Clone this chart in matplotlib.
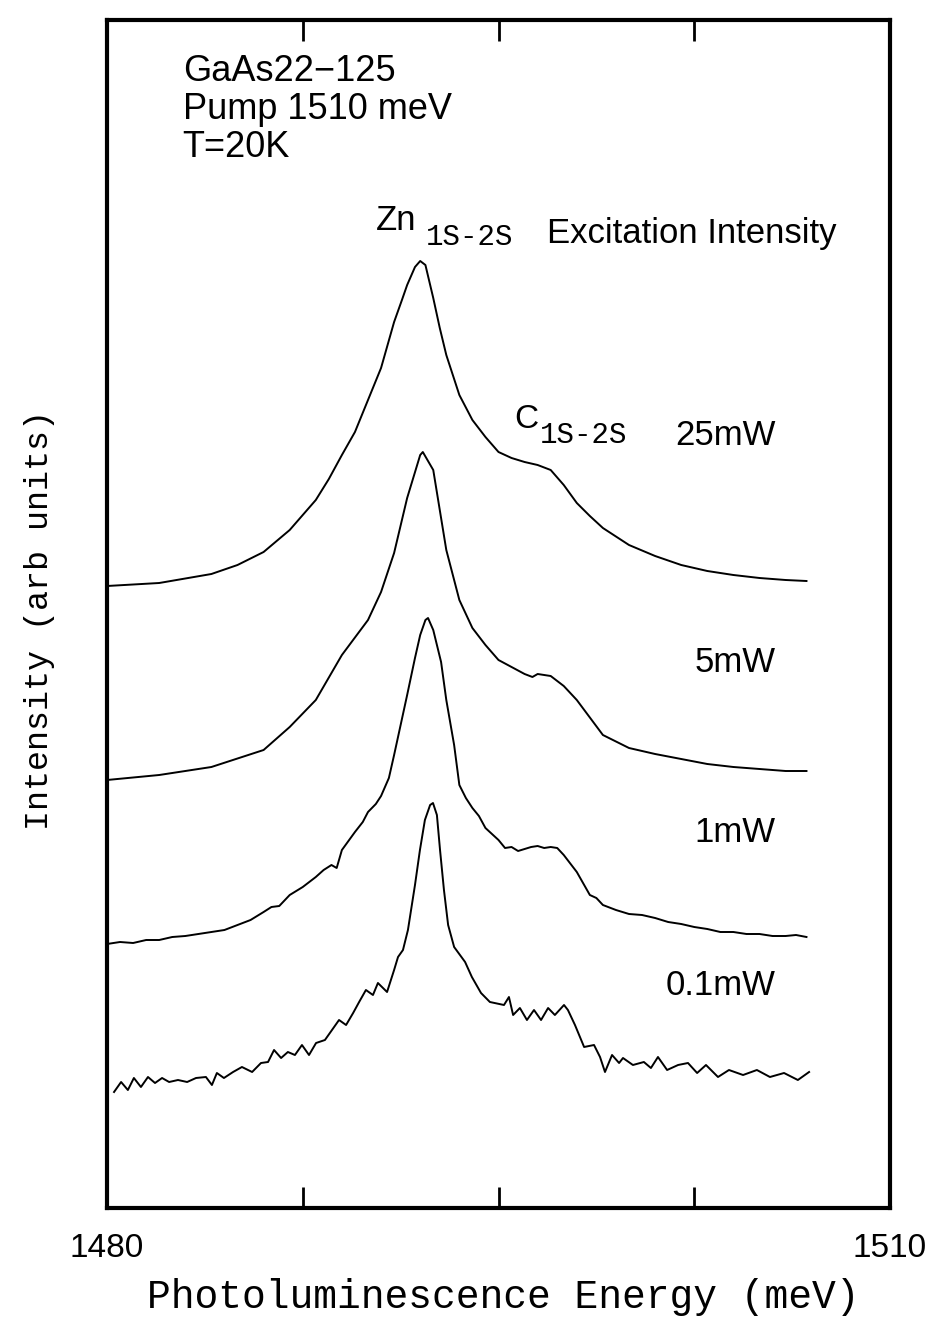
import matplotlib
matplotlib.use("Agg")
import matplotlib.pyplot as plt

# --- spectra, energy in meV, intensity in arbitrary (offset) units ---
e_25mw = [1480.0, 1482.0, 1484.0, 1485.0, 1486.0, 1487.0, 1488.0, 1488.5, 1489.0, 1489.5,
          1490.0, 1490.5, 1491.0, 1491.3, 1491.5, 1491.8, 1492.0, 1492.2, 1492.5, 1492.75,
          1493.0, 1493.5, 1494.0, 1494.5, 1495.0, 1495.5, 1496.0, 1496.5, 1497.0, 1497.5,
          1498.0, 1498.5, 1499.0, 1500.0, 1501.0, 1502.0, 1503.0, 1504.0, 1505.0, 1506.0, 1506.8]
i_25mw = [6.22, 6.25, 6.34, 6.43, 6.56, 6.78, 7.08, 7.29, 7.53, 7.76,
          8.08, 8.40, 8.86, 9.08, 9.23, 9.41, 9.47, 9.43, 9.10, 8.80,
          8.53, 8.13, 7.88, 7.71, 7.56, 7.50, 7.46, 7.43, 7.38, 7.23,
          7.05, 6.92, 6.80, 6.63, 6.52, 6.43, 6.37, 6.33, 6.30, 6.28, 6.27]

e_5mw = [1480.0, 1482.0, 1484.0, 1486.0, 1487.0, 1488.0, 1489.0, 1490.0, 1490.5,
         1491.0, 1491.5, 1492.0, 1492.1, 1492.5, 1493.0, 1493.5, 1494.0, 1494.5,
         1495.0, 1495.5, 1496.0, 1496.3, 1496.5, 1497.0, 1497.5, 1498.0, 1499.0,
         1500.0, 1501.0, 1502.0, 1503.0, 1504.0, 1505.0, 1506.0, 1506.8]
i_5mw = [4.28, 4.33, 4.41, 4.58, 4.81, 5.08, 5.53, 5.88, 6.16,
         6.55, 7.10, 7.53, 7.56, 7.38, 6.58, 6.08, 5.80, 5.63,
         5.48, 5.41, 5.34, 5.31, 5.34, 5.32, 5.22, 5.08, 4.73,
         4.60, 4.54, 4.49, 4.44, 4.41, 4.39, 4.37, 4.37]

e_1mw = [1480.0, 1480.5, 1481.0, 1481.5, 1482.0, 1482.5, 1483.0, 1483.5, 1484.0,
         1484.5, 1485.0, 1485.5, 1486.0, 1486.3, 1486.6, 1487.0, 1487.5, 1488.0,
         1488.3, 1488.6, 1488.8, 1489.0, 1489.5, 1489.8, 1490.0, 1490.3, 1490.5,
         1490.8, 1491.0, 1491.5, 1491.8, 1492.0, 1492.2, 1492.3, 1492.5, 1492.8,
         1493.0, 1493.3, 1493.5, 1493.75, 1494.0, 1494.25, 1494.5, 1494.75, 1495.0,
         1495.25, 1495.5, 1495.75, 1496.0, 1496.25, 1496.5, 1496.75, 1497.0, 1497.25,
         1497.5, 1498.0, 1498.5, 1498.75, 1499.0, 1499.5, 1500.0, 1500.5, 1501.0,
         1501.5, 1502.0, 1502.5, 1503.0, 1503.5, 1504.0, 1504.5, 1505.0, 1505.5,
         1506.0, 1506.4, 1506.8]
i_1mw = [2.64, 2.66, 2.65, 2.68, 2.68, 2.71, 2.72, 2.74, 2.76,
         2.78, 2.83, 2.88, 2.96, 3.01, 3.02, 3.13, 3.21, 3.31,
         3.38, 3.43, 3.40, 3.58, 3.76, 3.86, 3.96, 4.04, 4.12,
         4.30, 4.53, 5.13, 5.50, 5.73, 5.88, 5.90, 5.78, 5.46,
         5.08, 4.63, 4.23, 4.10, 4.00, 3.92, 3.80, 3.74, 3.68,
         3.60, 3.61, 3.57, 3.59, 3.61, 3.62, 3.60, 3.61, 3.60,
         3.53, 3.36, 3.13, 3.10, 3.03, 2.98, 2.94, 2.93, 2.90,
         2.86, 2.84, 2.81, 2.79, 2.76, 2.76, 2.74, 2.74, 2.72,
         2.72, 2.73, 2.71]

e_01mw = [1480.27, 1480.54, 1480.80, 1481.03, 1481.30, 1481.57, 1481.84, 1482.11, 1482.38,
          1482.72, 1483.07, 1483.41, 1483.79, 1484.02, 1484.21, 1484.48, 1484.83, 1485.17,
          1485.56, 1485.90, 1486.17, 1486.40, 1486.67, 1486.93, 1487.20, 1487.47, 1487.74,
          1488.01, 1488.35, 1488.62, 1488.89, 1489.16, 1489.43, 1489.66, 1489.92, 1490.19,
          1490.38, 1490.73, 1491.00, 1491.15, 1491.34, 1491.53, 1491.80, 1491.99, 1492.18,
          1492.38, 1492.49, 1492.64, 1492.76, 1492.91, 1493.07, 1493.30, 1493.72, 1493.98,
          1494.33, 1494.67, 1495.21, 1495.40, 1495.56, 1495.82, 1496.09, 1496.36, 1496.63,
          1496.90, 1497.16, 1497.51, 1497.66, 1497.93, 1498.28, 1498.66, 1498.89, 1499.08,
          1499.35, 1499.62, 1499.77, 1500.15, 1500.57, 1500.84, 1501.11, 1501.46, 1501.88,
          1502.26, 1502.61, 1502.95, 1503.41, 1503.83, 1504.37, 1504.90, 1505.40, 1505.94,
          1506.47, 1506.90]
i_01mw = [1.16, 1.26, 1.18, 1.30, 1.21, 1.31, 1.25, 1.30, 1.26,
          1.28, 1.26, 1.30, 1.31, 1.23, 1.35, 1.30, 1.36, 1.41,
          1.36, 1.45, 1.46, 1.58, 1.50, 1.56, 1.53, 1.63, 1.53,
          1.65, 1.68, 1.78, 1.88, 1.83, 1.95, 2.06, 2.18, 2.13,
          2.25, 2.16, 2.38, 2.51, 2.58, 2.78, 3.23, 3.58, 3.88,
          4.03, 4.05, 3.93, 3.58, 3.18, 2.83, 2.61, 2.46, 2.31,
          2.15, 2.06, 2.03, 2.11, 1.93, 2.00, 1.88, 1.98, 1.88,
          2.00, 1.93, 2.03, 1.98, 1.83, 1.61, 1.63, 1.51, 1.36,
          1.53, 1.45, 1.50, 1.43, 1.46, 1.40, 1.51, 1.38, 1.43,
          1.45, 1.35, 1.43, 1.31, 1.38, 1.33, 1.38, 1.31, 1.35,
          1.28, 1.36]

powers = ["25mW", "5mW", "1mW", "0.1mW"]
label_y = [7.63, 5.36, 3.66, 2.13]   # baseline heights of the power labels

SANS = "Liberation Sans"
MONO = "Liberation Mono"

fig = plt.figure(figsize=(9.35, 13.21), dpi=100)
ax = fig.add_axes([107 / 935, 113 / 1321, 783 / 935, 1188 / 1321])

for e, i in [(e_25mw, i_25mw), (e_5mw, i_5mw), (e_1mw, i_1mw), (e_01mw, i_01mw)]:
    ax.plot(e, i, color="black", lw=1.4, solid_joinstyle="round")

ax.set_xlim(1480, 1510)
ax.set_ylim(0, 11.88)

# only the end values are labelled, three inward ticks on top and bottom
ax.set_xticks([1480, 1510])
ax.set_xticklabels(["1480", "1510"], fontsize=24, family=SANS)
ax.set_xticks([1487.5, 1495, 1502.5], minor=True)
ax.tick_params(axis="x", which="major", length=0, pad=18)
ax.tick_params(axis="x", which="minor", direction="in", length=15, width=2.0,
               top=True, bottom=True)
ax.set_yticks([])
for sp in ax.spines.values():
    sp.set_linewidth(3.0)

# header block
ax.text(1482.9, 11.54, "GaAs22\u2212125\nPump 1510 meV\nT=20K", fontsize=26,
        family=SANS, va="top", ha="left", linespacing=1.12)

# peak assignments
ax.text(1490.3, 9.78, "Zn", fontsize=25, family=SANS, va="baseline")
ax.text(1492.2, 9.63, "1S-2S", fontsize=21, family=MONO, va="baseline")
ax.text(1496.85, 9.65, "Excitation Intensity", fontsize=25, family=SANS, va="baseline")
ax.text(1495.6, 7.80, "C", fontsize=24, family=SANS, va="baseline")
ax.text(1496.6, 7.65, "1S-2S", fontsize=21, family=MONO, va="baseline")

for p, y in zip(powers, label_y):
    ax.text(1505.6, y, p, fontsize=25, family=SANS, ha="right", va="baseline")

fig.text(503 / 935, 1 - 1297 / 1321, "Photoluminescence Energy (meV)",
         fontsize=28.5, family=MONO, ha="center", va="center")
fig.text(40 / 935, 1 - 620 / 1321, "Intensity (arb units)", rotation=90,
         fontsize=24, family=MONO, ha="center", va="center")

fig.savefig("out.png", dpi=100)
